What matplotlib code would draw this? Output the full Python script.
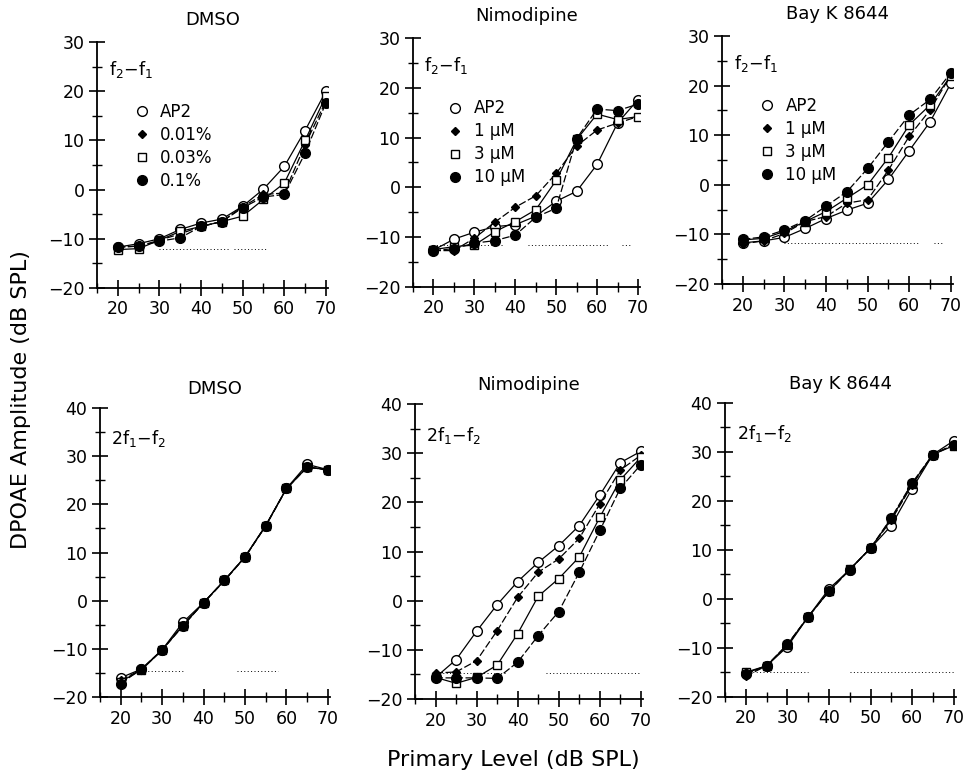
import matplotlib.pyplot as plt
from matplotlib.lines import Line2D
from matplotlib.ticker import MultipleLocator

plt.rcParams['font.family'] = ['DejaVu Sans']

levels = [20, 25, 30, 35, 40, 45, 50, 55, 60, 65, 70]

# ---- f2-f1 (top row) ----
dmso_f2f1 = {
    'AP2':   [-11.7, -11.0, -10.0, -8.1, -6.8, -6.0, -3.4, 0.1, 4.7, 12.0, 20.0],
    '0.01%': [-11.7, -11.5, -10.3, -9.0, -7.5, -6.5, -3.5, -1.0, -0.7, 9.1, 18.0],
    '0.03%': [-12.2, -12.0, -10.3, -8.5, -7.5, -6.5, -5.4, -2.0, 1.3, 10.0, 19.0],
    '0.1%':  [-11.7, -11.5, -10.5, -9.8, -7.5, -6.5, -3.7, -1.5, -1.0, 7.4, 17.6],
}
nimo_f2f1 = {
    'AP2':   [-12.6, -10.4, -9.0, -7.9, -7.5, -5.8, -2.8, -0.8, 4.6, 12.9, 17.6],
    '1 µM':  [-12.7, -12.7, -10.2, -7.0, -4.0, -1.7, 2.8, 8.3, 11.5, 12.9, 14.2],
    '3 µM':  [-12.5, -11.9, -11.6, -8.9, -6.9, -4.5, 1.4, 9.6, 14.7, 13.6, 14.2],
    '10 µM': [-12.7, -12.3, -11.2, -10.7, -9.6, -6.0, -4.2, 9.8, 15.7, 15.4, 16.7],
}
bayk_f2f1 = {
    'AP2':   [-11.7, -11.3, -10.6, -8.8, -6.8, -5.1, -3.7, 1.1, 6.9, 12.7, 20.5],
    '1 µM':  [-11.9, -11.3, -9.8, -7.4, -6.4, -3.7, -3.0, 3.0, 9.8, 15.1, 22.1],
    '3 µM':  [-11.1, -10.8, -9.4, -7.4, -5.4, -2.7, 0.0, 5.5, 12.1, 16.1, 22.0],
    '10 µM': [-11.0, -10.5, -9.1, -7.2, -4.3, -1.4, 3.3, 8.7, 14.1, 17.2, 22.6],
}

# ---- 2f1-f2 (bottom row) ----
dmso_2f1f2 = {
    'AP2':   [-16.0, -14.2, -10.2, -4.5, -0.4, 4.2, 9.1, 15.6, 23.3, 28.3, 27.2],
    '0.01%': [-16.5, -14.3, -10.3, -5.0, -0.5, 4.1, 9.0, 15.5, 23.2, 27.8, 27.1],
    '0.03%': [-16.8, -14.4, -10.2, -5.2, -0.4, 4.2, 9.1, 15.6, 23.3, 27.7, 27.2],
    '0.1%':  [-17.2, -14.2, -10.2, -5.3, -0.4, 4.2, 9.1, 15.6, 23.3, 27.7, 27.2],
}
nimo_2f1f2 = {
    'AP2':   [-15.6, -12.0, -6.2, -0.8, 3.9, 7.8, 11.2, 15.3, 21.5, 28.1, 30.4],
    '1 µM':  [-14.7, -14.5, -12.2, -6.1, 0.7, 5.8, 8.5, 12.7, 19.7, 26.6, 29.6],
    '3 µM':  [-15.6, -16.8, -15.6, -13.1, -6.7, 0.9, 4.5, 8.9, 17.0, 24.6, 29.2],
    '10 µM': [-15.7, -15.7, -15.7, -15.8, -12.5, -7.1, -2.2, 5.8, 14.3, 22.9, 27.7],
}
bayk_2f1f2 = {
    'AP2':   [-15.2, -13.7, -9.8, -3.7, 2.0, 5.9, 10.3, 14.9, 22.4, 29.4, 32.2],
    '1 µM':  [-15.8, -13.7, -9.5, -3.7, 1.5, 5.9, 10.3, 16.0, 23.2, 29.4, 31.4],
    '3 µM':  [-15.0, -13.7, -9.4, -3.7, 1.5, 6.0, 10.3, 16.3, 23.4, 29.4, 31.2],
    '10 µM': [-15.4, -13.7, -9.3, -3.7, 1.5, 5.9, 10.3, 16.5, 23.6, 29.4, 31.4],
}

# noise floor (dotted) segments: (x_start, x_end, level)
noise_top = [
    [(30, 47, -12.0), (48, 56, -12.0)],
    [(20, 37, -11.6), (43, 63, -11.6), (66, 68, -11.6)],
    [(30, 62, -11.8), (66, 68, -11.8)],
]
noise_bottom = [
    [(25, 35, -14.7), (48, 58, -14.7)],
    [(20, 37, -14.8), (47, 70, -14.8)],
    [(20, 35, -15.0), (45, 70, -15.0)],
]

titles = ['DMSO', 'Nimodipine', 'Bay K 8644']

styles = [
    dict(marker='o', mfc='white', mec='black', ms=7, ls='-'),
    dict(marker='D', mfc='black', mec='black', ms=4.5, ls=(0, (6, 2))),
    dict(marker='s', mfc='white', mec='black', ms=6, ls='-'),
    dict(marker='o', mfc='black', mec='black', ms=7, ls=(0, (6, 2))),
]

fig = plt.figure(figsize=(9.68, 7.76), dpi=100)

top_pos = [
    [0.1002, 0.6289, 0.2386, 0.3170],
    [0.4267, 0.6302, 0.2345, 0.3210],
    [0.7459, 0.6340, 0.2386, 0.3196],
]
bot_pos = [
    [0.1033, 0.1018, 0.2376, 0.3724],
    [0.4287, 0.0992, 0.2355, 0.3800],
    [0.7490, 0.1022, 0.2383, 0.3790],
]
legend_anchor = [(0.13, 0.78), (0.12, 0.78), (0.13, 0.78)]


def draw_panel(pos, data, noise, title, label, ylim, yticks, legend, tpad):
    ax = fig.add_axes(pos)
    for (name, vals), st in zip(data.items(), styles):
        ax.plot(levels, vals, color='black', lw=0.9, ls=st['ls'],
                marker=st['marker'], mfc=st['mfc'], mec=st['mec'],
                ms=st['ms'], mew=1.0, zorder=3)
    for x0, x1, lv in noise:
        ax.plot([x0, x1], [lv, lv], color='black', lw=0.7, ls=(0, (1, 2.5)))
    ax.set_xlim(15, 70.5)
    ax.set_ylim(*ylim)
    ax.set_xticks([20, 30, 40, 50, 60, 70])
    ax.set_yticks(yticks)
    ax.xaxis.set_minor_locator(MultipleLocator(5))
    ax.yaxis.set_minor_locator(MultipleLocator(5))
    for s in ['top', 'right']:
        ax.spines[s].set_visible(False)
    for s in ['left', 'bottom']:
        ax.spines[s].set_linewidth(1.3)
    ax.tick_params(which='major', direction='inout', length=12, width=1.2,
                   labelsize=12.5, pad=3)
    ax.tick_params(which='minor', direction='inout', length=7, width=1.0)
    ax.set_title(title, fontsize=13, pad=tpad)
    ax.text(0.05, 0.93, label, transform=ax.transAxes, fontsize=12.5,
            va='top', ha='left')
    if legend is not None:
        handles = [Line2D([], [], color='black', ls='none', marker=st['marker'],
                          mfc=st['mfc'], mec=st['mec'], ms=st['ms'], mew=1.0)
                   for st in styles]
        ax.legend(handles, list(data.keys()), loc='upper left',
                  bbox_to_anchor=legend, frameon=False, fontsize=12,
                  handlelength=1.0, handletextpad=0.6, labelspacing=0.3,
                  borderaxespad=0)
    return ax


tops = [dmso_f2f1, nimo_f2f1, bayk_f2f1]
bots = [dmso_2f1f2, nimo_2f1f2, bayk_2f1f2]
for i in range(3):
    draw_panel(top_pos[i], tops[i], noise_top[i], titles[i],
               r'f$_2$$-$f$_1$', (-20, 30), [-20, -10, 0, 10, 20, 30],
               legend_anchor[i], 12)
    draw_panel(bot_pos[i], bots[i], noise_bottom[i], titles[i],
               r'2f$_1$$-$f$_2$', (-20, 40), [-20, -10, 0, 10, 20, 30, 40],
               None, 10)

fig.text(0.022, 0.485, 'DPOAE Amplitude (dB SPL)', rotation=90, fontsize=16,
         va='center', ha='center')
fig.text(0.53, 0.02, 'Primary Level (dB SPL)', fontsize=16, ha='center',
         va='center')

fig.savefig('out.png', dpi=100)
